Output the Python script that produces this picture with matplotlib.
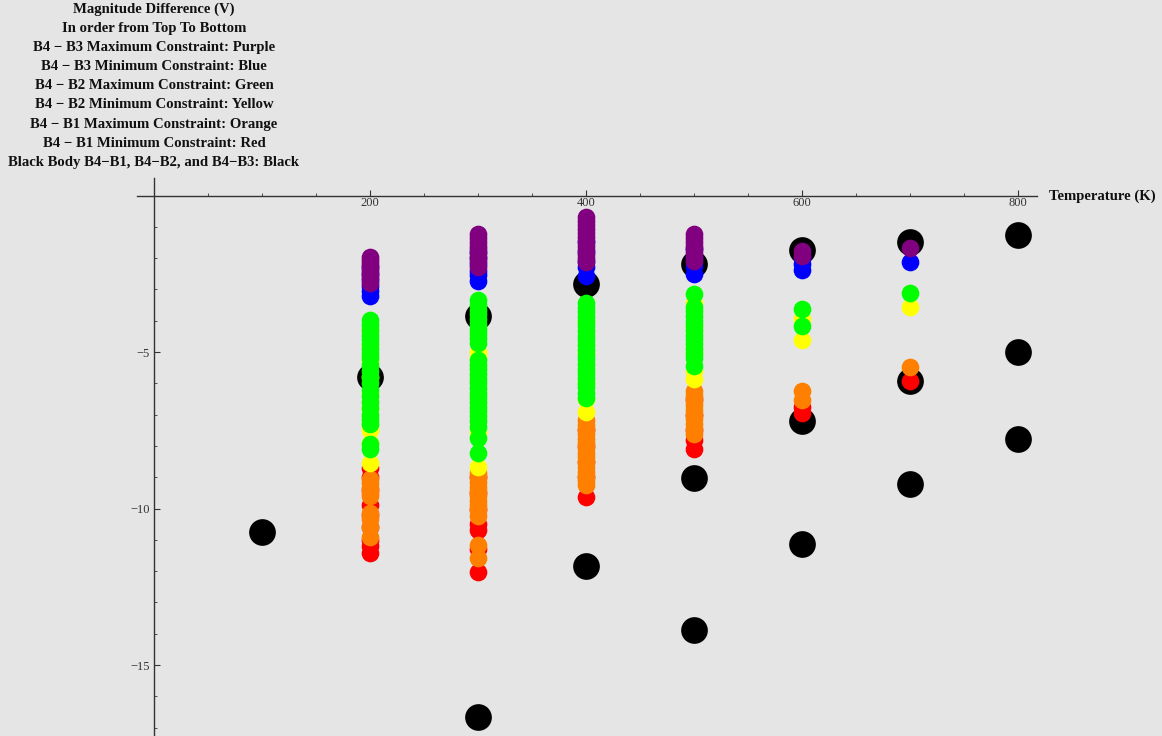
import numpy as np
import matplotlib.pyplot as plt

# black body curves (B4-B3, B4-B2, B4-B1), only the points inside the plot range
bb_T = [100, 200, 300, 400, 500, 600, 700, 800,
        300, 400, 500, 600, 700, 800,
        500, 600, 700, 800]
bb_V = [-10.75, -5.80, -3.85, -2.83, -2.19, -1.74, -1.47, -1.26,
        -16.66, -11.84, -9.03, -7.20, -5.93, -5.00,
        -13.88, -11.14, -9.22, -7.78]

# constraint points, one list of values per temperature
temps = [200, 300, 400, 500, 600, 700]

red_vals = [
    [-8.7, -9.0, -9.4, -9.89, -10.2, -10.6, -11.0, -11.2, -11.42],
    [-9.0, -9.5, -10.0, -10.5, -10.7, -11.3, -12.03],
    [-7.5, -8.0, -8.5, -9.0, -9.63],
    [-6.5, -7.0, -7.5, -7.8, -8.1],
    [-6.75, -6.95],
    [-5.93],
]
orange_vals = [
    [-9.05, -9.2, -9.35, -9.5, -9.6, -10.15, -10.35, -10.6, -10.9],
    [-8.85, -9.0, -9.15, -9.3, -9.45, -9.6, -9.75, -9.9, -10.05, -10.25, -11.17, -11.58],
    [-7.17, -7.32, -7.47, -7.62, -7.77, -7.92, -8.07, -8.22, -8.37, -8.52, -8.67, -8.82, -8.97, -9.12, -9.25],
    [-6.25, -6.4, -6.55, -6.7, -6.85, -7.0, -7.15, -7.3, -7.45, -7.62],
    [-6.25, -6.53],
    [-5.48],
]
yellow_vals = [
    [-4.3, -4.8, -5.3, -5.8, -6.3, -6.8, -7.3, -7.5, -7.9, -8.55],
    [-5.0, -5.17, -7.55, -8.68],
    [-4.0, -5.0, -6.0, -6.5, -6.92],
    [-3.45, -4.2, -5.0, -5.6, -5.86],
    [-3.95, -4.62],
    [-3.56],
]
green_vals = [
    [-3.98, -4.15, -4.3, -4.45, -4.6, -4.75, -4.9, -5.05, -5.2, -5.4, -5.6, -5.8, -6.0,
     -6.2, -6.4, -6.6, -6.8, -7.0, -7.15, -7.3, -7.95, -8.1],
    [-3.34, -3.5, -3.65, -3.8, -3.95, -4.1, -4.25, -4.4, -4.55, -4.7, -5.25, -5.4, -5.55,
     -5.7, -5.85, -6.0, -6.15, -6.3, -6.45, -6.6, -6.75, -6.9, -7.05, -7.2, -7.4, -7.75, -8.23],
    [-3.43, -3.58, -3.73, -3.88, -4.03, -4.18, -4.33, -4.48, -4.63, -4.78, -4.93, -5.08,
     -5.23, -5.38, -5.53, -5.68, -5.83, -5.98, -6.13, -6.3, -6.47],
    [-3.15, -3.55, -3.7, -3.85, -4.0, -4.15, -4.3, -4.45, -4.6, -4.75, -4.9, -5.05, -5.2, -5.45],
    [-3.63, -4.17],
    [-3.11],
]
blue_vals = [
    [-2.3, -2.5, -2.7, -2.9, -3.05, -3.22],
    [-1.8, -2.0, -2.2, -2.4, -2.55, -2.72],
    [-1.5, -1.8, -2.1, -2.3, -2.56],
    [-1.7, -2.0, -2.25, -2.52],
    [-2.0, -2.2, -2.38],
    [-2.12],
]
purple_vals = [
    [-1.95, -2.05, -2.15, -2.25, -2.35, -2.45, -2.55, -2.65, -2.78],
    [-1.23, -1.35, -1.47, -1.6, -1.72, -1.85, -1.97, -2.1, -2.28],
    [-0.69, -0.82, -0.95, -1.08, -1.2, -1.33, -1.46, -1.6, -1.73, -1.86, -1.99, -2.12],
    [-1.23, -1.35, -1.47, -1.6, -1.72, -1.85, -1.97, -2.09],
    [-1.78, -1.94],
    [-1.67],
]

title_lines = ["Magnitude Difference (V)",
               "In order from Top To Bottom",
               "B4 \u2212 B3 Maximum Constraint: Purple",
               "B4 \u2212 B3 Minimum Constraint: Blue",
               "B4 \u2212 B2 Maximum Constraint: Green",
               "B4 \u2212 B2 Minimum Constraint: Yellow",
               "B4 \u2212 B1 Maximum Constraint: Orange",
               "B4 \u2212 B1 Minimum Constraint: Red",
               "Black Body B4\u2212B1, B4\u2212B2, and B4\u2212B3: Black"]

bg = '#e5e5e5'
plt.rcParams['font.family'] = ['Liberation Serif', 'DejaVu Serif']

fig = plt.figure(figsize=(11.62, 7.36), dpi=100, facecolor=bg)
ax = fig.add_axes([0, 0, 1, 1], facecolor=bg)

ax.scatter(bb_T, bb_V, s=370, color='black', linewidths=0, zorder=2, clip_on=False)

series = [(red_vals, '#ff0000'), (orange_vals, '#ff8000'), (yellow_vals, '#ffff00'),
          (green_vals, '#00ff00'), (blue_vals, '#0000ff'), (purple_vals, '#800080')]
for k, (vals, col) in enumerate(series):
    xs = []
    ys = []
    for T, v in zip(temps, vals):
        xs += [T] * len(v)
        ys += v
    ax.scatter(xs, ys, s=162, color=col, linewidths=0, zorder=3 + k, clip_on=False)

# pixel-matched ranges: origin at (154, 195.5), 108 px per 100 K, 31.3 px per unit
ax.set_xlim(-154 / 1.08, (1162 - 154) / 1.08)
ax.set_ylim((195.5 - 736) / 31.3, 195.5 / 31.3)

for s in ['top', 'right']:
    ax.spines[s].set_visible(False)
ax.spines['left'].set_position(('data', 0))
ax.spines['bottom'].set_position(('data', 0))
ax.spines['bottom'].set_bounds(-15.7, 818)
ax.spines['left'].set_bounds((195.5 - 736) / 31.3, 0.56)
for s in ['left', 'bottom']:
    ax.spines[s].set_color('#333333')
    ax.spines[s].set_linewidth(1.0)

ax.set_xticks([200, 400, 600, 800])
ax.set_xticks(np.arange(50, 801, 50), minor=True)
ax.set_yticks([-5, -10, -15])
ax.set_yticklabels(['\u22125', '\u221210', '\u221215'])
ax.set_yticks(np.arange(-17, 0, 1), minor=True)
ax.tick_params(which='both', direction='in', color='#333333', labelsize=9,
               labelcolor='#333333')
ax.tick_params(which='major', length=4, width=0.8)
ax.tick_params(which='minor', length=2.5, width=0.6)
ax.tick_params(axis='x', which='both', pad=1)
ax.tick_params(axis='y', pad=3)

for i, line in enumerate(title_lines):
    fig.text(154 / 1162, 1 - (9.5 + 19.1 * i) / 736, line, ha='center', va='center',
             fontsize=10.6, fontweight='bold', color='#111111')

fig.text(1049 / 1162, 1 - 196 / 736, 'Temperature (K)', ha='left', va='center',
         fontsize=10.6, fontweight='bold', color='#111111')

plt.savefig('out.png', dpi=100, facecolor=bg)
